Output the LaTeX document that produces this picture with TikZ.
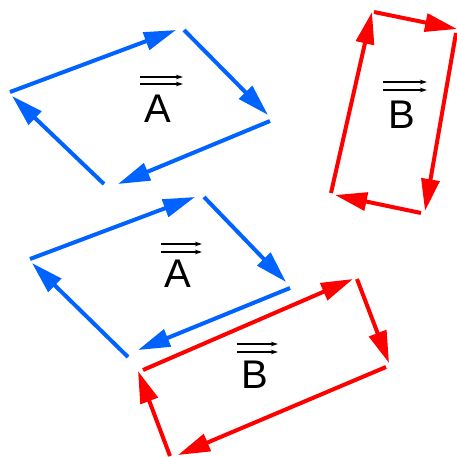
\documentclass[tikz,border=0pt]{standalone}
\usepackage{fontspec}
\setmainfont{Liberation Sans}
\usetikzlibrary{arrows.meta}
\definecolor{vblue}{RGB}{0,98,255}
\definecolor{vred}{RGB}{255,0,0}
\begin{document}
\begin{tikzpicture}[x=1pt,y=-1pt,
  vec/.style={line width=4pt,-{Triangle[length=32pt,width=18pt]}},
  bluevec/.style={vec,draw=vblue,fill=vblue},
  redvec/.style={vec,draw=vred,fill=vred},
  lbl/.style={anchor=base,inner sep=0pt,font=\fontsize{40}{40}\selectfont},
  over/.style={line width=1.3pt,-{Stealth[length=7pt,width=4.5pt]}}]
\useasboundingbox (0,0) rectangle (457,456);
% ---- top blue parallelogram
\coordinate (ta1s) at (10,92);   \coordinate (ta1e) at (176,30);
\coordinate (ta2s) at (184,30);  \coordinate (ta2e) at (268,115);
\coordinate (ta3s) at (270,121); \coordinate (ta3e) at (118,184);
\coordinate (ta4s) at (104,184); \coordinate (ta4e) at (12,96);
\draw[bluevec] (ta1s) -- (ta1e);
\draw[bluevec] (ta2s) -- (ta2e);
\draw[bluevec] (ta3s) -- (ta3e);
\draw[bluevec] (ta4s) -- (ta4e);
\node[lbl] (labA1) at (157.5,122) {A};
\coordinate (oa1a) at (140,77); \coordinate (oa1b) at (183,77);
\coordinate (oa1c) at (140,84); \coordinate (oa1d) at (183,84);
\draw[over] (oa1a) -- (oa1b);
\draw[over] (oa1c) -- (oa1d);
% ---- top red parallelogram
\coordinate (tb1s) at (331,193); \coordinate (tb1e) at (372,12);
\coordinate (tb2s) at (374,12);  \coordinate (tb2e) at (457,29);
\coordinate (tb3s) at (456,33);  \coordinate (tb3e) at (425,211);
\coordinate (tb4s) at (421,213); \coordinate (tb4e) at (335,195);
\draw[redvec] (tb1s) -- (tb1e);
\draw[redvec] (tb2s) -- (tb2e);
\draw[redvec] (tb3s) -- (tb3e);
\draw[redvec] (tb4s) -- (tb4e);
\node[lbl] (labB1) at (402,128) {B};
\coordinate (ob1a) at (383,82); \coordinate (ob1b) at (427,82);
\coordinate (ob1c) at (383,90); \coordinate (ob1d) at (427,90);
\draw[over] (ob1a) -- (ob1b);
\draw[over] (ob1c) -- (ob1d);
% ---- lower blue parallelogram
\coordinate (la1s) at (30,259);  \coordinate (la1e) at (195,197);
\coordinate (la2s) at (204,197); \coordinate (la2e) at (286,282);
\coordinate (la3s) at (290,288); \coordinate (la3e) at (138,350);
\coordinate (la4s) at (128,357); \coordinate (la4e) at (32,263);
\draw[bluevec] (la1s) -- (la1e);
\draw[bluevec] (la2s) -- (la2e);
\draw[bluevec] (la3s) -- (la3e);
\draw[bluevec] (la4s) -- (la4e);
\node[lbl] (labA2) at (177.5,287) {A};
\coordinate (oa2a) at (161,244); \coordinate (oa2b) at (202,244);
\coordinate (oa2c) at (161,252); \coordinate (oa2d) at (202,252);
\draw[over] (oa2a) -- (oa2b);
\draw[over] (oa2c) -- (oa2d);
% ---- lower red parallelogram
\coordinate (lb1s) at (143,370); \coordinate (lb1e) at (353,279);
\coordinate (lb2s) at (357,279); \coordinate (lb2e) at (389,363);
\coordinate (lb3s) at (386,367); \coordinate (lb3e) at (178,455);
\coordinate (lb4s) at (170,456); \coordinate (lb4e) at (138,371);
\draw[redvec] (lb1s) -- (lb1e);
\draw[redvec] (lb2s) -- (lb2e);
\draw[redvec] (lb3s) -- (lb3e);
\draw[redvec] (lb4s) -- (lb4e);
\node[lbl] (labB2) at (254.5,388) {B};
\coordinate (ob2a) at (237,344); \coordinate (ob2b) at (278,344);
\coordinate (ob2c) at (237,352); \coordinate (ob2d) at (278,352);
\draw[over] (ob2a) -- (ob2b);
\draw[over] (ob2c) -- (ob2d);
\end{tikzpicture}
\end{document}
